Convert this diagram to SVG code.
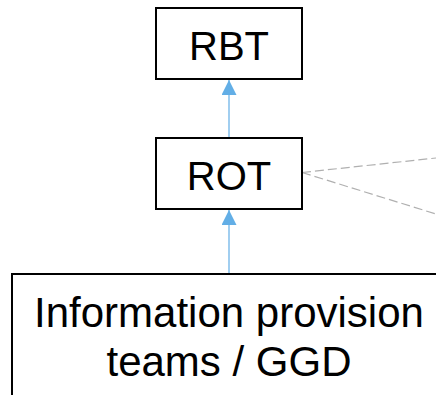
<svg xmlns="http://www.w3.org/2000/svg" width="436" height="395" viewBox="0 0 436 395">
  <style>
    .box { fill: #ffffff; stroke: #000000; stroke-width: 2; }
    .lbl { font-family: "Liberation Sans", Arial, sans-serif; font-size: 40px; fill: #000000; text-anchor: middle; }
    .big { font-size: 42px; }
    .edge { stroke: #62aee6; stroke-width: 1.2; fill: none; }
    .dash { stroke: #b0b0b0; stroke-width: 1.2; fill: none; stroke-dasharray: 9 4; }
  </style>
  <defs>
    <marker id="arrow" markerWidth="15" markerHeight="15" refX="15" refY="7.5" orient="auto" markerUnits="userSpaceOnUse" viewBox="0 0 15 15">
      <path d="M0,0 L15,7.5 L0,15 Z" fill="#62aee6"/>
    </marker>
  </defs>
  <g id="connectors">
    <line class="edge" x1="229" y1="138" x2="229" y2="80" marker-end="url(#arrow)"/>
    <line class="edge" x1="229" y1="274" x2="229" y2="210" marker-end="url(#arrow)"/>
    <line class="dash" x1="302" y1="172.5" x2="436" y2="158"/>
    <line class="dash" x1="302" y1="172.5" x2="436" y2="214"/>
  </g>
  <g id="node-rbt">
    <rect class="box" x="156" y="8" width="146" height="71"/>
    <text class="lbl" x="229" y="60">RBT</text>
  </g>
  <g id="node-rot">
    <rect class="box" x="156" y="138" width="146" height="71"/>
    <text class="lbl" x="229" y="190">ROT</text>
  </g>
  <g id="node-info">
    <rect class="box" x="12" y="274" width="440" height="140"/>
    <text class="lbl big" x="229" y="327">Information provision</text>
    <text class="lbl big" x="229" y="376">teams / GGD</text>
  </g>
</svg>
